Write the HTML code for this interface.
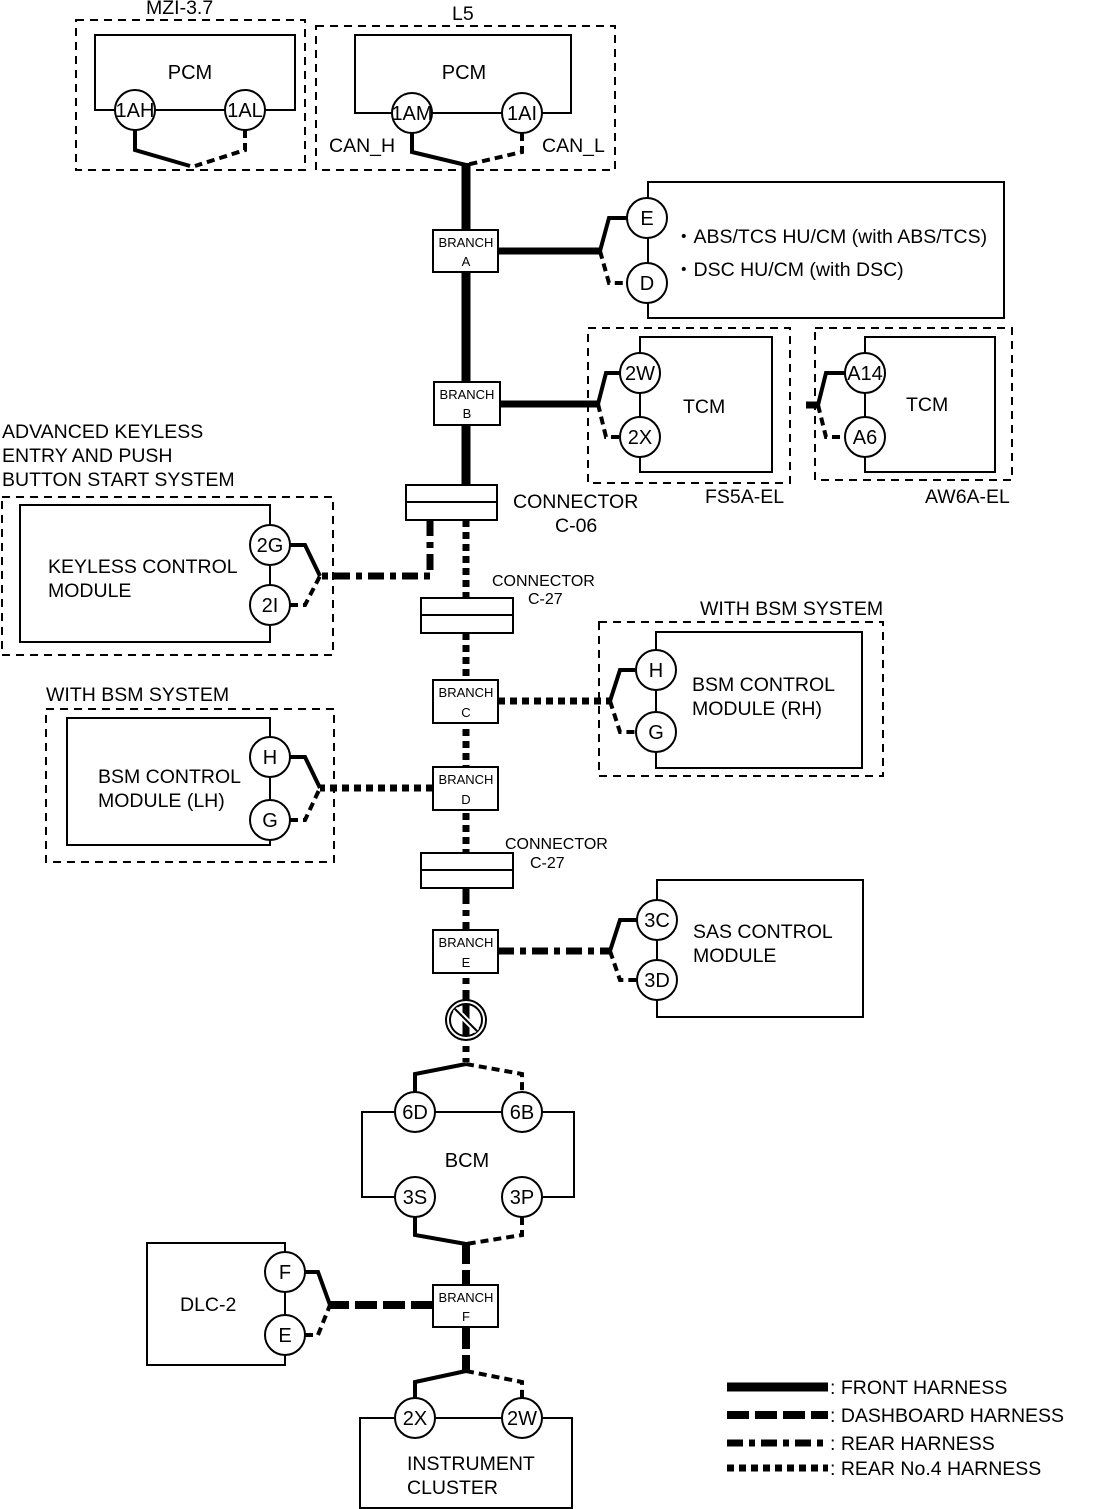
<!DOCTYPE html>
<html><head><meta charset="utf-8"><style>body{margin:0;background:#fff}svg{display:block}text{font-family:"Liberation Sans",sans-serif;fill:#000}</style></head><body>
<svg width="1112" height="1509" viewBox="0 0 1112 1509" xmlns="http://www.w3.org/2000/svg">
<defs>
<style>
.bx{fill:#fff;stroke:#000;stroke-width:2}
.db{fill:none;stroke:#000;stroke-width:2;stroke-dasharray:8,6}
.thin{fill:none;stroke:#000;stroke-width:2}
.sw{fill:none;stroke:#000;stroke-width:4}
.dw{fill:none;stroke:#000;stroke-width:4;stroke-dasharray:8,5}
.fr{fill:none;stroke:#000;stroke-width:9}
.frh{fill:none;stroke:#000;stroke-width:7}
.dash{fill:none;stroke:#000;stroke-width:8;stroke-dasharray:22,6}
.rear{fill:none;stroke:#000;stroke-width:7;stroke-dasharray:16,6,6,6}
.r4{fill:none;stroke:#000;stroke-width:7;stroke-dasharray:7,5}
.c{fill:#fff;stroke:#000;stroke-width:2}
.t{font-size:19.5px}
.ct{font-size:20px;text-anchor:middle}
.bt{font-size:13px;text-anchor:middle}
.s{font-size:16px}
</style>
</defs>
<!-- MZI-3.7 -->
<rect class="db" x="76" y="20" width="229" height="150"/>
<text class="t" x="146" y="14">MZI-3.7</text>
<path class="thin" d="M115 110 H95 V35 H295 V110 H265 M155 110 H225"/>
<text class="ct" x="190" y="79">PCM</text>
<circle class="c" cx="135" cy="110" r="20"/><text class="ct" x="135" y="117">1AH</text>
<circle class="c" cx="245" cy="110" r="20"/><text class="ct" x="245" y="117">1AL</text>
<path class="sw" d="M135 130 V150 L190 166"/>
<path class="dw" d="M245 130 V150 L195 166"/>
<!-- L5 -->
<rect class="db" x="316" y="26" width="299" height="144"/>
<text class="t" x="452" y="20">L5</text>
<path class="thin" d="M392 113 H355 V35 H571 V113 H542 M432 113 H502"/>
<text class="ct" x="464" y="79">PCM</text>
<circle class="c" cx="412" cy="113" r="20"/><text class="ct" x="412" y="120">1AM</text>
<circle class="c" cx="522" cy="113" r="20"/><text class="ct" x="522" y="120">1AI</text>
<text class="t" x="329" y="152">CAN_H</text><text class="t" x="542" y="152">CAN_L</text>
<path class="sw" d="M412 133 V152 L466 165"/>
<path class="dw" d="M522 133 V152 L466 165"/>
<!-- trunk front -->
<path class="fr" d="M466 163 V486"/>
<!-- Branch A -->
<path class="frh" d="M498 251 H600"/>
<path class="sw" d="M600 251 L609 218 H627"/>
<path class="dw" d="M600 251 L609 283 H627"/>
<path class="thin" d="M648 198 V182 H1004 V318 H648 V303 M648 238 V263"/>
<circle class="c" cx="647" cy="218" r="20"/><text class="ct" x="647" y="225">E</text>
<circle class="c" cx="647" cy="283" r="20"/><text class="ct" x="647" y="290">D</text>
<text class="t" x="674" y="243">・ABS/TCS HU/CM (with ABS/TCS)</text>
<text class="t" x="674" y="276">・DSC HU/CM (with DSC)</text>
<rect class="bx" x="433" y="230" width="65" height="42"/>
<text class="bt" x="466" y="247">BRANCH</text><text class="bt" x="466" y="266">A</text>
<!-- Branch B -->
<path class="frh" d="M500 404 H598"/>
<path class="sw" d="M598 404 L606 373 H620"/>
<path class="dw" d="M598 404 L606 437 H620"/>
<rect class="db" x="588" y="328" width="202" height="155"/>
<path class="thin" d="M640 353 V337 H772 V472 H640 V457 M640 393 V417"/>
<circle class="c" cx="640" cy="373" r="20"/><text class="ct" x="640" y="380">2W</text>
<circle class="c" cx="640" cy="437" r="20"/><text class="ct" x="640" y="444">2X</text>
<text class="t" x="683" y="413">TCM</text>
<text class="t" x="705" y="503">FS5A-EL</text>
<rect class="db" x="815" y="328" width="197" height="152"/>
<path class="thin" d="M865 353 V337 H995 V472 H865 V457 M865 393 V417"/>
<path class="frh" d="M806 405 H818"/>
<path class="sw" d="M818 405 L826 373 H845"/>
<path class="dw" d="M818 405 L826 437 H845"/>
<circle class="c" cx="865" cy="373" r="20"/><text class="ct" x="865" y="380">A14</text>
<circle class="c" cx="865" cy="437" r="20"/><text class="ct" x="865" y="444">A6</text>
<text class="t" x="906" y="411">TCM</text>
<text class="t" x="925" y="503">AW6A-EL</text>
<rect class="bx" x="434" y="382" width="66" height="43"/>
<text class="bt" x="467" y="399">BRANCH</text><text class="bt" x="467" y="418">B</text>
<!-- C-06 -->
<path class="rear" d="M430 520 V576 H320"/>
<path class="r4" d="M466 520 V600"/>
<rect class="bx" x="406" y="485" width="91" height="35"/><path class="thin" d="M406 502 H497"/>
<text class="t" x="513" y="508">CONNECTOR</text><text class="t" x="555" y="532">C-06</text>
<!-- Keyless -->
<text class="t" x="2" y="438">ADVANCED KEYLESS</text>
<text class="t" x="2" y="462">ENTRY AND PUSH</text>
<text class="t" x="2" y="486">BUTTON START SYSTEM</text>
<rect class="db" x="2" y="497" width="331" height="158"/>
<path class="thin" d="M270 525 V505 H20 V642 H270 V625 M270 565 V585"/>
<circle class="c" cx="270" cy="545" r="20"/><text class="ct" x="270" y="552">2G</text>
<circle class="c" cx="270" cy="605" r="20"/><text class="ct" x="270" y="612">2I</text>
<text class="t" x="48" y="573">KEYLESS CONTROL</text><text class="t" x="48" y="597">MODULE</text>
<path class="sw" d="M290 545 H305 L320 576"/>
<path class="dw" d="M290 605 H305 L320 576"/>
<!-- C-27 a -->
<text class="s" x="492" y="586">CONNECTOR</text><text class="s" x="528" y="604">C-27</text>
<path class="r4" d="M466 633 V855"/>
<rect class="bx" x="421" y="598" width="92" height="35"/><path class="thin" d="M421 615 H513"/>
<!-- Branch C -->
<path class="r4" d="M498 701 H610"/>
<path class="sw" d="M610 701 L620 670 H635"/>
<path class="dw" d="M610 701 L620 732 H635"/>
<text class="t" x="700" y="615">WITH BSM SYSTEM</text>
<rect class="db" x="599" y="622" width="284" height="154"/>
<path class="thin" d="M656 650 V632 H862 V768 H656 V752 M656 690 V712"/>
<circle class="c" cx="656" cy="670" r="20"/><text class="ct" x="656" y="677">H</text>
<circle class="c" cx="656" cy="732" r="20"/><text class="ct" x="656" y="739">G</text>
<text class="t" x="692" y="691">BSM CONTROL</text><text class="t" x="692" y="715">MODULE (RH)</text>
<rect class="bx" x="433" y="680" width="65" height="43"/>
<text class="bt" x="466" y="697">BRANCH</text><text class="bt" x="466" y="717">C</text>
<!-- Branch D -->
<path class="r4" d="M433 788 H320"/>
<path class="sw" d="M290 757 H305 L320 788"/>
<path class="dw" d="M290 820 H305 L320 788"/>
<text class="t" x="46" y="701">WITH BSM SYSTEM</text>
<rect class="db" x="46" y="709" width="288" height="153"/>
<path class="thin" d="M270 737 V718 H67 V845 H270 V840 M270 777 V800"/>
<circle class="c" cx="270" cy="757" r="20"/><text class="ct" x="270" y="764">H</text>
<circle class="c" cx="270" cy="820" r="20"/><text class="ct" x="270" y="827">G</text>
<text class="t" x="98" y="783">BSM CONTROL</text><text class="t" x="98" y="807">MODULE (LH)</text>
<rect class="bx" x="433" y="767" width="65" height="43"/>
<text class="bt" x="466" y="784">BRANCH</text><text class="bt" x="466" y="804">D</text>
<!-- C-27 b -->
<text class="s" x="505" y="849">CONNECTOR</text><text class="s" x="530" y="868">C-27</text>
<path class="rear" d="M466 888 V1062"/>
<rect class="bx" x="421" y="853" width="92" height="35"/><path class="thin" d="M421 870 H513"/>
<!-- Branch E -->
<path class="rear" d="M498 951 H610"/>
<path class="sw" d="M610 951 L620 920 H637"/>
<path class="dw" d="M610 951 L620 980 H637"/>
<path class="thin" d="M657 900 V880 H863 V1017 H657 V1000 M657 940 V960"/>
<circle class="c" cx="657" cy="920" r="20"/><text class="ct" x="657" y="927">3C</text>
<circle class="c" cx="657" cy="980" r="20"/><text class="ct" x="657" y="987">3D</text>
<text class="t" x="693" y="938">SAS CONTROL</text><text class="t" x="693" y="962">MODULE</text>
<rect class="bx" x="433" y="930" width="65" height="43"/>
<text class="bt" x="466" y="947">BRANCH</text><text class="bt" x="466" y="967">E</text>
<!-- no symbol -->
<circle cx="466" cy="1020" r="20" fill="#fff" stroke="#000" stroke-width="2"/>
<circle cx="466" cy="1020" r="16" fill="none" stroke="#000" stroke-width="2"/>
<path d="M466 1004 V1036" stroke="#000" stroke-width="7"/>
<path d="M455 1009 L477 1031" stroke="#fff" stroke-width="6"/>
<path d="M455 1009 L477 1031" stroke="#000" stroke-width="2"/>
<!-- BCM -->
<path class="sw" d="M466 1064 L415 1074 V1092"/>
<path class="dw" d="M466 1064 L522 1074 V1092"/>
<path class="thin" d="M395 1112 H362 V1197 H395 M435 1112 H502 M542 1112 H574 V1197 H542"/>
<circle class="c" cx="415" cy="1112" r="20"/><text class="ct" x="415" y="1119">6D</text>
<circle class="c" cx="522" cy="1112" r="20"/><text class="ct" x="522" y="1119">6B</text>
<circle class="c" cx="415" cy="1197" r="20"/><text class="ct" x="415" y="1204">3S</text>
<circle class="c" cx="522" cy="1197" r="20"/><text class="ct" x="522" y="1204">3P</text>
<text class="ct" x="467" y="1167">BCM</text>
<path class="sw" d="M415 1217 V1235 L466 1244"/>
<path class="dw" d="M522 1217 V1235 L466 1244"/>
<path class="dash" d="M466 1242 V1286"/>
<!-- DLC -->
<path class="dash" d="M433 1305 H330"/>
<path class="sw" d="M305 1272 H318 L330 1305"/>
<path class="dw" d="M305 1335 H318 L330 1305"/>
<path class="thin" d="M285 1252 V1243 H147 V1365 H285 V1355 M285 1292 V1315"/>
<circle class="c" cx="285" cy="1272" r="20"/><text class="ct" x="285" y="1279">F</text>
<circle class="c" cx="285" cy="1335" r="20"/><text class="ct" x="285" y="1342">E</text>
<text class="t" x="180" y="1311">DLC-2</text>
<path class="dash" d="M466 1327 V1372"/>
<rect class="bx" x="433" y="1285" width="65" height="42"/>
<text class="bt" x="466" y="1302">BRANCH</text><text class="bt" x="466" y="1321">F</text>
<!-- Instrument -->
<path class="sw" d="M466 1371 L415 1382 V1398"/>
<path class="dw" d="M466 1371 L522 1382 V1398"/>
<path class="thin" d="M395 1418 H360 V1509 M435 1418 H502 M542 1418 H572 V1509 M360 1508 H572"/>
<circle class="c" cx="415" cy="1418" r="20"/><text class="ct" x="415" y="1425">2X</text>
<circle class="c" cx="522" cy="1418" r="20"/><text class="ct" x="522" y="1425">2W</text>
<text class="t" x="407" y="1470">INSTRUMENT</text><text class="t" x="407" y="1494">CLUSTER</text>
<!-- legend -->
<path class="fr" d="M727 1387 H828"/>
<path class="dash" d="M727 1415 H828"/>
<path class="rear" d="M727 1443 H828"/>
<path class="r4" d="M727 1468 H828"/>
<text class="t" x="830" y="1394">: FRONT HARNESS</text>
<text class="t" x="830" y="1422">: DASHBOARD HARNESS</text>
<text class="t" x="830" y="1450">: REAR HARNESS</text>
<text class="t" x="830" y="1475">: REAR No.4 HARNESS</text>
</svg>
</body></html>
